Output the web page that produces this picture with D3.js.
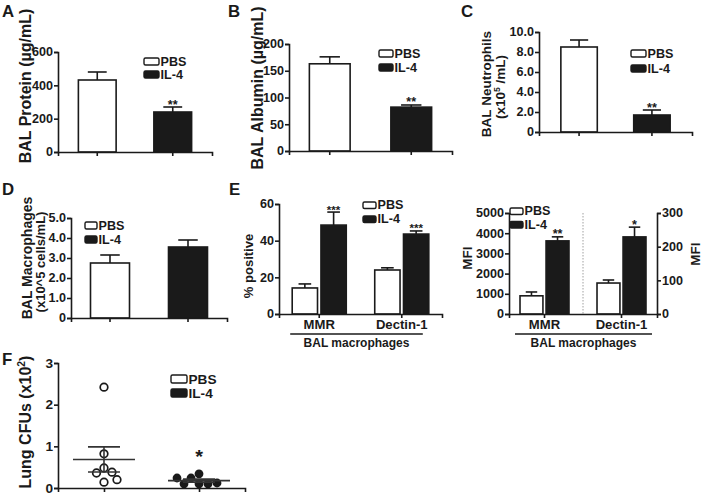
<!DOCTYPE html>
<html><head><meta charset="utf-8">
<script src="https://cdn.jsdelivr.net/npm/d3@7"></script>
<style>
body{margin:0;background:#fff}
svg text{font-family:"Liberation Sans",Arial,sans-serif;font-weight:bold;fill:#1a1a1a}
</style>
</head><body>
<svg id="c" width="703" height="498"></svg>
<script>
// ---------- data ----------
const groups = ["PBS", "IL-4"];
const proteinMean = [432, 240], proteinSem = [48, 30];
const albuminMean = [163, 82], albuminSem = [13, 4];
const neutroMean = [8.5, 1.7], neutroSem = [0.7, 0.5];
const macroMean = [2.75, 3.55], macroSem = [0.4, 0.35];
const receptors = ["MMR", "Dectin-1"];
const pctPBS = [14.2, 24.0], pctPBSSem = [2.2, 1.2];
const pctIL4 = [48.5, 43.6], pctIL4Sem = [7.1, 1.7];
const mfiPBS = [900, 92], mfiPBSSem = [190, 9];      // MMR on left axis, Dectin-1 on right axis
const mfiIL4 = [3620, 229], mfiIL4Sem = [200, 29];
const cfuPBS = [2.42, 0.82, 0.48, 0.36, 0.38, 0.14, 0.20];
const cfuIL4 = [0.34, 0.24, 0.10, 0.10, 0.10, 0.12, 0.24];

const ticksA = [0, 200, 400, 600];
const ticksB = [0, 50, 100, 150, 200];
const ticksC = [0, 2, 4, 6, 8, 10], labelsC = ["0", "2.0", "4.0", "6.0", "8.0", "10.0"];
const ticksD = [0, 1, 2, 3, 4, 5], labelsD = ["0", "1.0", "2.0", "3.0", "4.0", "5.0"];
const ticksE1 = [0, 20, 40, 60];
const ticksE2 = [0, 1000, 2000, 3000, 4000, 5000];
const ticksE2R = [0, 100, 200, 300];
const ticksF = [0, 1, 2, 3];

// ---------- helpers ----------
const svg = d3.select("#c");
const ink = "#1a1a1a";
const FONT = "Liberation Sans, Arial, sans-serif";
const SX = 1.05;   // slight horizontal stretch of the reference's lettering

function txt(x, y, s, fs, anchor, sx) {
  return svg.append("text").attr("transform", `translate(${x},${y}) scale(${sx || SX},1)`)
    .attr("text-anchor", anchor || "start").attr("font-size", fs).text(s);
}
function styleAxis(g, fs) {
  g.attr("font-family", FONT).attr("font-size", fs).attr("font-weight", "bold");
  g.select(".domain").attr("stroke", ink).attr("stroke-width", 1.6);
  g.selectAll(".tick line").attr("stroke", ink).attr("stroke-width", 1.6);
  g.selectAll(".tick text").attr("fill", ink).each(function () {
    const t = d3.select(this), x = +t.attr("x") || 0, y = +t.attr("y") || 0;
    t.attr("x", null).attr("y", null).attr("transform", `translate(${x},${y}) scale(${SX},1)`);
  });
}
function yAxis(scale, x, ticks, labels, fs, right) {
  const ax = (right ? d3.axisRight(scale) : d3.axisLeft(scale))
    .tickValues(ticks).tickFormat((d, i) => labels ? labels[i] : d)
    .tickSizeOuter(0).tickSize(4).tickPadding(1);
  const g = svg.append("g").attr("transform", `translate(${x},0)`).call(ax);
  styleAxis(g, fs);
  return g;
}
function xAxis(scale, y, showLabels, fs) {
  const ax = d3.axisBottom(scale).tickSizeOuter(0).tickSize(4).tickPadding(2)
    .tickFormat(showLabels ? d => d : "");
  const g = svg.append("g").attr("transform", `translate(0,${y})`).call(ax);
  styleAxis(g, fs);
  return g;
}
function bar(x, w, y, y0, filled) {
  svg.append("rect").attr("x", x).attr("y", y).attr("width", w).attr("height", y0 - y)
    .attr("fill", filled ? ink : "#fff").attr("stroke", ink).attr("stroke-width", 1.6);
}
function errBar(cx, w, yMean, yTop) {
  svg.append("line").attr("x1", cx).attr("x2", cx).attr("y1", yMean).attr("y2", yTop)
    .attr("stroke", ink).attr("stroke-width", 1.6);
  svg.append("line").attr("x1", cx - w / 4).attr("x2", cx + w / 4).attr("y1", yTop).attr("y2", yTop)
    .attr("stroke", ink).attr("stroke-width", 1.6);
}
function stars(cx, yTop, s, fs) {
  txt(cx, yTop + 1.5, s, fs || 12, "middle");
}
function legend(x, y, gap, bw, bh, fs) {
  groups.forEach((g, i) => {
    svg.append("rect").attr("x", x).attr("y", y + i * gap).attr("width", bw).attr("height", bh)
      .attr("rx", 1.5).attr("fill", i ? ink : "#fff").attr("stroke", ink).attr("stroke-width", 1.4);
    txt(x + bw + 1.5, y + i * gap + bh + 0.8, g, fs);
  });
}
function yTitle(x, yc, parts, fs) {
  const t = svg.append("text").attr("transform", `translate(${x},${yc}) rotate(-90)`)
    .attr("text-anchor", "middle").attr("font-size", fs);
  parts.forEach(p => {
    const ts = t.append("tspan").text(p.t);
    if (p.sup) ts.attr("font-size", fs * 0.65).attr("dy", -fs * 0.4);
    if (p.after) ts.attr("dy", fs * 0.4);
  });
}
function panelLabel(x, y, s) { txt(x, y, s, 16, "start", 1.05); }

// simple two-bar panel
function barPanel(o) {
  const x = d3.scaleBand().domain(groups).range(o.xr).paddingInner(0.5).paddingOuter(o.po);
  const y = d3.scaleLinear().domain([0, o.max]).range(o.yr);
  groups.forEach((g, i) => {
    bar(x(g), x.bandwidth(), y(o.mean[i]), y(0), i === 1);
    errBar(x(g) + x.bandwidth() / 2, x.bandwidth(), y(o.mean[i]), y(o.mean[i] + o.sem[i]));
    if (o.stars && o.stars[i]) stars(x(g) + x.bandwidth() / 2, y(o.mean[i] + o.sem[i]), o.stars[i]);
  });
  xAxis(x, o.yr[0], false, 12);
  yAxis(y, o.xr[0], o.ticks, o.labels, 12);
}

// ---------- A ----------
panelLabel(2, 17, "A");
barPanel({xr: [58, 212], yr: [152, 52], max: 600, mean: proteinMean, sem: proteinSem,
  ticks: ticksA, po: 0.27, stars: ["", "**"]});
yTitle(31, 86, [{t: "BAL Protein (µg/mL)"}], 16);
legend(144, 58, 13, 15, 7, 12);

// ---------- B ----------
panelLabel(228, 17, "B");
barPanel({xr: [289, 452], yr: [151, 44], max: 200, mean: albuminMean, sem: albuminSem,
  ticks: ticksB, po: 0.25, stars: ["", "**"]});
yTitle(263, 88, [{t: "BAL Albumin (µg/mL)"}], 16);
legend(379, 50, 14, 14, 7, 12);

// ---------- C ----------
panelLabel(461, 17, "C");
barPanel({xr: [539, 692], yr: [132, 32], max: 10, mean: neutroMean, sem: neutroSem,
  ticks: ticksC, labels: labelsC, po: 0.3, stars: ["", "**"]});
yTitle(491, 84, [{t: "BAL Neutrophils"}], 13.5);
yTitle(505, 87, [{t: "(x10"}, {t: "5", sup: true}, {t: " /mL)", after: true}], 13.5);
legend(631, 50, 15, 15, 7, 12);

// ---------- D ----------
panelLabel(2, 195, "D");
barPanel({xr: [71, 227], yr: [318, 218], max: 5, mean: macroMean, sem: macroSem,
  ticks: ticksD, labels: labelsD, po: 0.25});
yTitle(32, 258, [{t: "BAL Macrophages"}], 14);
yTitle(45, 262, [{t: "(x10^5 cells/mL)"}], 13);
legend(85, 222, 14, 12, 7, 12);

// ---------- E (left) ----------
panelLabel(229, 195, "E");
{
  const x0 = d3.scaleBand().domain(receptors).range([279, 442]).paddingInner(0.345).paddingOuter(0.16);
  const x1 = d3.scaleBand().domain(groups).range([0, x0.bandwidth()]).paddingInner(0.12);
  const y = d3.scaleLinear().domain([0, 60]).range([314, 204]);
  const means = [pctPBS, pctIL4], sems = [pctPBSSem, pctIL4Sem];
  receptors.forEach((r, j) => {
    groups.forEach((g, i) => {
      const bx = x0(r) + x1(g), bw = x1.bandwidth();
      bar(bx, bw, y(means[i][j]), y(0), i === 1);
      errBar(bx + bw / 2, bw, y(means[i][j]), y(means[i][j] + sems[i][j]));
      if (i === 1) stars(bx + bw / 2, y(means[i][j] + sems[i][j]), "***", 11);
    });
  });
  xAxis(x0, 314, true, 12.5);
  yAxis(y, 279, ticksE1, null, 12);
  const ux0 = x0(receptors[0]) - 2, ux1 = x0(receptors[1]) + x0.bandwidth() - 6;
  svg.append("line").attr("x1", ux0).attr("x2", ux1).attr("y1", 334).attr("y2", 334)
    .attr("stroke", ink).attr("stroke-width", 1.6);
  txt((ux0 + ux1) / 2, 347, "BAL macrophages", 12, "middle", 1.0);
  yTitle(253, 266, [{t: "% positive"}], 13);
  legend(363, 202, 14, 13, 6.5, 12);
}

// ---------- E (right) ----------
{
  const x0 = d3.scaleBand().domain(receptors).range([509, 657]).paddingInner(0.364).paddingOuter(0.143);
  const x1 = d3.scaleBand().domain(groups).range([0, x0.bandwidth()]).paddingInner(0.12);
  const yL = d3.scaleLinear().domain([0, 5000]).range([314, 213]);
  const yR = d3.scaleLinear().domain([0, 300]).range([314, 213]);
  const means = [mfiPBS, mfiIL4], sems = [mfiPBSSem, mfiIL4Sem];
  const sig = [["", "**"], ["", "*"]];
  const mid = (x0(receptors[0]) + x0.bandwidth() + x0(receptors[1])) / 2;
  svg.append("line").attr("x1", mid).attr("x2", mid).attr("y1", 213).attr("y2", 314)
    .attr("stroke", "#888").attr("stroke-width", 0.8).attr("stroke-dasharray", "1.5,1.5");
  receptors.forEach((r, j) => {
    const y = j === 0 ? yL : yR;
    groups.forEach((g, i) => {
      const bx = x0(r) + x1(g), bw = x1.bandwidth();
      bar(bx, bw, y(means[i][j]), y(0), i === 1);
      errBar(bx + bw / 2, bw, y(means[i][j]), y(means[i][j] + sems[i][j]));
      if (sig[j][i]) stars(bx + bw / 2, y(means[i][j] + sems[i][j]), sig[j][i], 12);
    });
  });
  xAxis(x0, 314, true, 12.5);
  yAxis(yL, 509, ticksE2, null, 12);
  yAxis(yR, 657, ticksE2R, null, 12, true);
  const ux0 = x0(receptors[0]) - 5, ux1 = x0(receptors[1]) + x0.bandwidth() + 6;
  svg.append("line").attr("x1", ux0).attr("x2", ux1).attr("y1", 334).attr("y2", 334)
    .attr("stroke", ink).attr("stroke-width", 1.6);
  txt((ux0 + ux1) / 2, 347, "BAL macrophages", 12, "middle", 1.0);
  yTitle(472, 258, [{t: "MFI"}], 13.5);
  yTitle(700, 254, [{t: "MFI"}], 13.5);
  legend(510, 208, 13.5, 13, 6.5, 12);
}

// ---------- F ----------
panelLabel(2, 365, "F");
{
  const x = d3.scalePoint().domain(groups).range([58, 245]).padding(0.484);
  const y = d3.scaleLinear().domain([0, 3]).range([488, 363]);
  const r = 3.8, dmin = 9;
  function swarm(vals) {
    const placed = [];
    vals.forEach(v => {
      const py = y(v);
      for (let k = 0; k < 400; k++) {
        const off = (k % 2 ? -1 : 1) * Math.ceil(k / 2) * 0.5;
        if (placed.every(p => Math.hypot(p.dx - off, p.y - py) >= dmin)) {
          placed.push({dx: off, y: py, v}); break;
        }
      }
    });
    return placed;
  }
  [cfuPBS, cfuIL4].forEach((vals, i) => {
    const cx = x(groups[i]);
    const m = d3.mean(vals), se = d3.deviation(vals) / Math.sqrt(vals.length);
    swarm(vals).forEach(p => {
      svg.append("circle").attr("cx", cx + p.dx).attr("cy", p.y).attr("r", i ? r + 0.6 : r)
        .attr("fill", i ? ink : "#fff").attr("stroke", ink).attr("stroke-width", i ? 0 : 1.7);
    });
    const ln = (x1, x2, y1, y2) => svg.append("line").attr("x1", x1).attr("x2", x2)
      .attr("y1", y1).attr("y2", y2).attr("stroke", "#333").attr("stroke-width", 1.6);
    ln(cx - 31, cx + 31, y(m), y(m));
    ln(cx, cx, y(m - se), y(m + se));
    ln(cx - 16, cx + 16, y(m + se), y(m + se));
    ln(cx - 16, cx + 16, y(m - se), y(m - se));
  });
  txt(x(groups[1]), 463, "*", 19, "middle");
  xAxis(x, 488, false, 13);
  yAxis(y, 58, ticksF, null, 13);
  yTitle(31, 422, [{t: "Lung CFUs (x10"}, {t: "2", sup: true}, {t: ")", after: true}], 16);
  legend(171, 375, 14, 16, 8, 13);
}
</script>
</body></html>
